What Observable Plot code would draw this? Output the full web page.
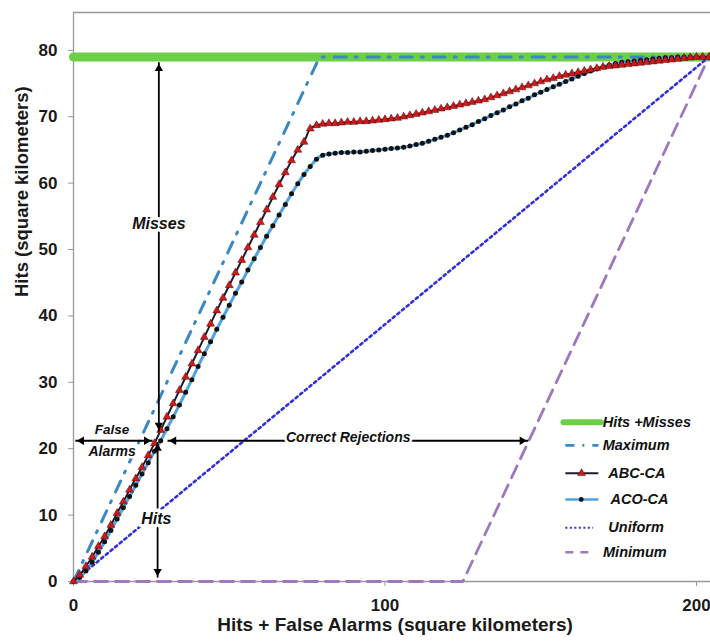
<!DOCTYPE html>
<html><head><meta charset="utf-8">
<script src="https://cdn.jsdelivr.net/npm/d3@7"></script>
<script src="https://cdn.jsdelivr.net/npm/@observablehq/plot@0.6"></script>
<style>body{margin:0;background:#fff}</style>
</head><body><div id="chart"></div>
<script>
// Hits + False Alarms (km²) sample positions
const areaX = [0,2,4,6,8,10,12,14,16,18,
 20,22,24,26,28,30,32,34,36,38,
 40,42,44,46,48,50,52,54,56,58,
 60,62,64,66,68,70,72,74,76,78,
 80,82,84,86,88,90,92,94,96,98,
 100,102,104,106,108,110,112,114,116,118,
 120,122,124,126,128,130,132,134,136,138,
 140,142,144,146,148,150,152,154,156,158,
 160,162,164,166,168,170,172,174,176,178,
 180,182,184,186,188,190,192,194,196,198,
 200,202,204];
const abcHits = [0,1.0,2.3,3.7,5.3,6.8,8.5,10.3,12.0,13.8,
 15.5,17.2,19.0,20.8,22.8,24.8,26.8,28.8,30.8,32.8,
 34.8,36.8,38.8,40.8,42.7,44.6,46.5,48.4,50.3,52.2,
 54.1,56.0,57.9,59.8,61.6,63.4,65.0,66.2,68.2,68.7,
 68.9,69.0,69.0,69.1,69.2,69.2,69.3,69.3,69.4,69.5,
 69.6,69.7,69.8,70.0,70.2,70.4,70.6,70.8,71.0,71.2,
 71.4,71.6,71.8,72.0,72.2,72.4,72.6,72.9,73.2,73.5,
 73.8,74.1,74.4,74.7,75.0,75.3,75.6,75.8,76.1,76.3,
 76.5,76.7,76.9,77.1,77.3,77.5,77.6,77.7,77.8,77.9,
 78.0,78.1,78.2,78.3,78.4,78.5,78.6,78.7,78.8,78.9,
 79.0,79.0,79.0];
const acoHits = [0,0.6,1.6,2.9,4.4,6.0,7.7,9.4,11.1,12.8,
 14.5,16.2,17.9,19.6,21.2,23.0,24.8,26.6,28.5,30.4,
 32.4,34.3,36.1,38.0,39.8,41.6,43.4,45.1,46.9,48.6,
 50.3,52.0,53.6,55.2,56.8,58.4,59.9,61.3,62.5,63.6,
 64.2,64.4,64.5,64.6,64.6,64.7,64.7,64.8,64.9,65.0,
 65.1,65.2,65.3,65.4,65.6,65.8,66.0,66.3,66.6,66.9,
 67.2,67.6,68.0,68.4,68.8,69.3,69.7,70.2,70.6,71.0,
 71.5,71.9,72.4,72.8,73.3,73.7,74.1,74.5,74.9,75.3,
 75.7,76.1,76.5,76.9,77.2,77.5,77.8,78.0,78.2,78.3,
 78.4,78.5,78.6,78.7,78.8,78.9,78.9,79.0,79.0,79.0,
 79.0,79.0,79.0];
const totalArea = 204;
const hitsPlusMisses = 79;
const maximumX = [0, 79, 204];
const maximumY = [0, 79, 79];
const uniformX = [0, 204];
const uniformY = [0, 79];
const minimumX = [0, 125, 204];
const minimumY = [0, 0, 79];
const yTicks = [0,10,20,30,40,50,60,70,80];
const xTicks = [0,100,200];
const legendLabels = ["Hits +Misses","Maximum","ABC-CA","ACO-CA","Uniform","Minimum"];
const annotationLabels = ["Misses","Hits","False","Alarms","Correct Rejections"];
const xTitle = "Hits + False Alarms (square kilometers)";
const yTitle = "Hits (square kilometers)";

const abc = areaX.map((x,i)=>({x, y: abcHits[i]}));
const aco = areaX.map((x,i)=>({x, y: acoHits[i]}));
const pts = (xs, ys) => xs.map((x,i)=>({x, y: ys[i]}));
const total = [{x:0,y:hitsPlusMisses},{x:totalArea,y:hitsPlusMisses}];

const GREEN="#6ccf4a", MAXC="#3b88c6", ABCL="#1b1b2c", ABCM="#cc1a1a", ACOL="#4fa3e3", UNI="#3030dc", MINC="#9b78c0";
const bi = {fontWeight:"bold", fontStyle:"italic", fill:"#111"};
const halo = {stroke:"white", strokeWidth:5, paintOrder:"stroke"};

// annotation arrows (segments) and heads
const segs = [
  {x1:27.4,y1:78.2,x2:27.4,y2:22.6},
  {x1:27.0,y1:21.0,x2:27.0,y2:0.6},
  {x1:0.6,y1:21.2,x2:25.4,y2:21.2},
  {x1:30.2,y1:21.2,x2:146,y2:21.2}
];
const headsUp = [{x:27.4,y:78.2},{x:27.0,y:21.0}];
const headsDown = [{x:27.4,y:22.6},{x:27.0,y:0.6}];
const headsLeft = [{x:0.6,y:21.2},{x:30.2,y:21.2}];
const headsRight = [{x:25.4,y:21.2},{x:146,y:21.2}];
const hd = 6.2;

// legend rows
const L = legendLabels;
const rowY = [24.0, 20.5, 16.3, 12.35, 8.1, 4.4];

const chart = Plot.plot({
  width: 710, height: 644,
  marginLeft: 73, marginTop: 12, marginBottom: 63, marginRight: 0,
  x: {domain: [0, 204.5]},
  y: {domain: [0, 85.7]},
  style: {fontFamily: "'Liberation Sans', Arial, sans-serif", background: "#fff", color: "#1a1a1a", overflow: "hidden"},
  marks: [
    Plot.ruleX([0], {stroke:"#999", strokeWidth:1.3}),
    Plot.ruleY([0, 85.7], {stroke:"#999", strokeWidth:1.3}),
    Plot.axisY(yTicks, {tickSize:5, tickPadding:11, fontSize:17, fontWeight:"bold", stroke:"#999", label:null}),
    Plot.axisX(xTicks, {tickSize:5, tickPadding:12, fontSize:17, fontWeight:"bold", stroke:"#999", label:null}),
    Plot.text([yTitle], {text:d=>d, frameAnchor:"left", dx:-51, rotate:-90, fontSize:18.5, fontWeight:"bold", fill:"#1a1a1a"}),
    Plot.text([xTitle], {text:d=>d, frameAnchor:"bottom", dy:49, dx:3, fontSize:19, fontWeight:"bold", fill:"#1a1a1a"}),

    Plot.line(total, {x:"x", y:"y", stroke:GREEN, strokeWidth:9}),
    Plot.line(pts(uniformX, uniformY), {x:"x", y:"y", stroke:UNI, strokeWidth:2.6, strokeDasharray:"2.5,3.5"}),
    Plot.line(pts(minimumX, minimumY), {x:"x", y:"y", stroke:MINC, strokeWidth:2.8, strokeDasharray:"13,8"}),
    Plot.line(pts(maximumX, maximumY), {x:"x", y:"y", stroke:MAXC, strokeWidth:3, strokeDasharray:"12,9,2,10"}),
    Plot.line(aco, {x:"x", y:"y", stroke:ACOL, strokeWidth:3, curve:"monotone-x"}),
    Plot.dot(aco, {x:"x", y:"y", r:2.5, fill:"#111", stroke:"none"}),
    Plot.line(abc, {x:"x", y:"y", stroke:ABCL, strokeWidth:2, curve:"monotone-x"}),
    Plot.dot(abc, {x:"x", y:"y", symbol:"triangle2", r:3.8, fill:ABCM, stroke:"#5a0a0a", strokeWidth:0.5}),

    // annotation arrows
    Plot.link(segs, {x1:"x1", y1:"y1", x2:"x2", y2:"y2", stroke:"#000", strokeWidth:1.8}),
    Plot.dot(headsUp, {x:"x", y:"y", symbol:"triangle2", r:4, fill:"#000", rotate:0, dy:hd}),
    Plot.dot(headsDown, {x:"x", y:"y", symbol:"triangle2", r:4, fill:"#000", rotate:180, dy:-hd}),
    Plot.dot(headsLeft, {x:"x", y:"y", symbol:"triangle2", r:4, fill:"#000", rotate:-90, dx:hd}),
    Plot.dot(headsRight, {x:"x", y:"y", symbol:"triangle2", r:4, fill:"#000", rotate:90, dx:-hd}),
    Plot.text([{t:annotationLabels[0], x:27.4, y:53.8}], {x:"x", y:"y", text:"t", fontSize:16, ...bi, ...halo, strokeWidth:7}),
    Plot.text([{t:annotationLabels[1], x:26.6, y:9.4}], {x:"x", y:"y", text:"t", fontSize:16, ...bi, ...halo, strokeWidth:7}),
    Plot.text([{t:annotationLabels[2], x:12.4, y:22.8}], {x:"x", y:"y", text:"t", fontSize:13.5, ...bi, ...halo}),
    Plot.text([{t:annotationLabels[3], x:12.4, y:19.6}], {x:"x", y:"y", text:"t", fontSize:14, ...bi, ...halo}),
    Plot.text([{t:annotationLabels[4], x:88.2, y:21.7}], {x:"x", y:"y", text:"t", fontSize:14, ...bi, ...halo}),

    // legend swatches
    Plot.link([{a:157.3,b:169.3,y:rowY[0]}], {x1:"a", x2:"b", y1:"y", y2:"y", stroke:GREEN, strokeWidth:6, strokeLinecap:"round"}),
    Plot.link([{a:157.9,b:168.5,y:rowY[1]}], {x1:"a", x2:"b", y1:"y", y2:"y", stroke:MAXC, strokeWidth:2.8, strokeDasharray:"9,8,2,8"}),
    Plot.link([{a:157.9,b:168.5,y:rowY[2]}], {x1:"a", x2:"b", y1:"y", y2:"y", stroke:ABCL, strokeWidth:2}),
    Plot.dot([{x:163.1,y:rowY[2]}], {x:"x", y:"y", symbol:"triangle2", r:3.8, fill:ABCM, stroke:"#5a0a0a", strokeWidth:0.5}),
    Plot.link([{a:157.9,b:168.5,y:rowY[3]}], {x1:"a", x2:"b", y1:"y", y2:"y", stroke:ACOL, strokeWidth:2.5}),
    Plot.dot([{x:163.0,y:rowY[3]}], {x:"x", y:"y", r:2.4, fill:"#111"}),
    Plot.link([{a:157.9,b:166.8,y:rowY[4]}], {x1:"a", x2:"b", y1:"y", y2:"y", stroke:UNI, strokeWidth:2, strokeDasharray:"2,2.5"}),
    Plot.link([{a:157.9,b:166.8,y:rowY[5]}], {x1:"a", x2:"b", y1:"y", y2:"y", stroke:MINC, strokeWidth:2.5, strokeDasharray:"8,7"}),
    Plot.text([
      {t:L[0], x:169.9, y:rowY[0]},
      {t:L[1], x:169.9, y:rowY[1]},
      {t:L[2], x:171.7, y:rowY[2]},
      {t:L[3], x:172.4, y:rowY[3]},
      {t:L[4], x:171.7, y:rowY[4]},
      {t:L[5], x:170.0, y:rowY[5]}
    ], {x:"x", y:"y", text:"t", textAnchor:"start", fontSize:14.5, ...bi})
  ]
});
document.getElementById("chart").appendChild(chart);
</script>
</body></html>
